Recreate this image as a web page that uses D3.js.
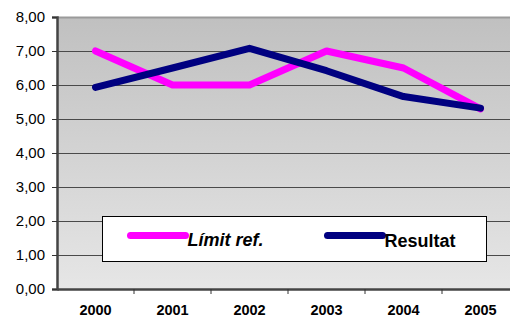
<!DOCTYPE html>
<html>
<head>
<meta charset="utf-8">
<script src="https://cdn.jsdelivr.net/npm/d3@7"></script>
<style>
  body { margin: 0; background: #fff; }
  svg { display: block; font-family: "Liberation Sans", Arial, sans-serif; }
</style>
</head>
<body>
<div class="container"></div>
<script>
// chart data
const years = ["2000", "2001", "2002", "2003", "2004", "2005"];
const limitRef = [7.0, 6.0, 6.0, 7.0, 6.5, 5.3];
const resultat = [5.93, 6.5, 7.08, 6.42, 5.66, 5.32];
const yTicks = [0, 1, 2, 3, 4, 5, 6, 7, 8];

const seriesNames = ["Límit ref.", "Resultat"];
const seriesColors = ["#ff00ff", "#000080"];

const W = 510, H = 317;
// plot area (right edge runs past the window, as in the reference)
const margin = { top: 17, left: 57 };
const plotW = 462, plotH = 272;

const svg = d3.select(".container")
  .append("svg")
  .attr("width", W)
  .attr("height", H);

const defs = svg.append("defs");
const grad = defs.append("linearGradient")
  .attr("id", "bg")
  .attr("x1", 0).attr("y1", 0).attr("x2", 0).attr("y2", 1);
grad.append("stop").attr("offset", "0%").attr("stop-color", "#c0c0c0");
grad.append("stop").attr("offset", "100%").attr("stop-color", "#e6e6e6");

const g = svg.append("g")
  .attr("transform", `translate(${margin.left}, ${margin.top})`);

const xScale = d3.scaleBand()
  .domain(years)
  .range([0, plotW]);

const yScale = d3.scaleLinear()
  .domain([0, 8])
  .range([plotH, 0]);

// background
g.append("rect")
  .attr("width", plotW)
  .attr("height", plotH)
  .attr("fill", "url(#bg)");

// top border of plot area
g.append("line")
  .attr("x1", 0).attr("x2", plotW)
  .attr("y1", 0.5).attr("y2", 0.5)
  .attr("stroke", "#9a9a9a")
  .attr("stroke-width", 2);

// gridlines
g.selectAll(".grid")
  .data(yTicks.filter(d => d > 0 && d < 8))
  .join("line")
  .attr("class", "grid")
  .attr("x1", 0).attr("x2", plotW)
  .attr("y1", d => Math.round(yScale(d)) + 0.5)
  .attr("y2", d => Math.round(yScale(d)) + 0.5)
  .attr("stroke", "#4a4a4a")
  .attr("stroke-width", 1);

// y axis
const yAxis = d3.axisLeft(yScale)
  .tickValues(yTicks)
  .tickSize(5)
  .tickFormat(d => d3.format(".2f")(d).replace(".", ","));

g.append("g")
  .attr("class", "y-axis")
  .call(yAxis)
  .call(s => s.select(".domain").attr("stroke", "#444").attr("stroke-width", 2.5))
  .call(s => s.selectAll(".tick line").attr("stroke", "#333"))
  .call(s => s.selectAll(".tick text")
    .attr("x", -12)
    .attr("fill", "#000")
    .style("font-size", "15px")
    .style("font-family", "Liberation Sans, Arial, sans-serif"));

// x axis: ticks between categories
const xAxis = d3.axisBottom(xScale)
  .tickSize(0)
  .tickSizeOuter(0);

const xg = g.append("g")
  .attr("class", "x-axis")
  .attr("transform", `translate(0, ${plotH})`)
  .call(xAxis);
xg.select(".domain").attr("stroke", "#444").attr("stroke-width", 2.5);
xg.selectAll(".tick text")
  .attr("y", 16)
  .attr("fill", "#000")
  .style("font-size", "14.5px")
  .style("font-weight", "bold")
  .style("font-family", "Liberation Sans, Arial, sans-serif");

g.selectAll(".xtick")
  .data(years.slice(1))
  .join("line")
  .attr("class", "xtick")
  .attr("x1", d => xScale(d))
  .attr("x2", d => xScale(d))
  .attr("y1", plotH)
  .attr("y2", plotH + 5)
  .attr("stroke", "#333");

// lines
const line = d3.line()
  .x((d, i) => xScale(years[i]) + xScale.bandwidth() / 2)
  .y(d => yScale(d));

[limitRef, resultat].forEach((values, k) => {
  g.append("path")
    .datum(values)
    .attr("fill", "none")
    .attr("stroke", seriesColors[k])
    .attr("stroke-width", 7)
    .attr("stroke-linejoin", "round")
    .attr("stroke-linecap", "round")
    .attr("d", line);
});

// legend
const legend = svg.append("g")
  .attr("transform", "translate(102.5, 216.5)");

legend.append("rect")
  .attr("width", 384)
  .attr("height", 45)
  .attr("fill", "#fff")
  .attr("stroke", "#000")
  .attr("stroke-width", 1);

const items = legend.selectAll(".item")
  .data(seriesNames)
  .join("g")
  .attr("class", "item")
  .attr("transform", (d, i) => `translate(${i === 0 ? 28 : 225}, 19)`);

items.append("line")
  .attr("x1", 0).attr("x2", 55)
  .attr("y1", 0).attr("y2", 0)
  .attr("stroke", (d, i) => seriesColors[i])
  .attr("stroke-width", 7)
  .attr("stroke-linecap", "round");

items.append("text")
  .attr("x", 57)
  .attr("y", (d, i) => i === 0 ? 10 : 11)
  .text(d => d)
  .style("font-size", "18px")
  .style("font-weight", "bold")
  .style("font-style", (d, i) => i === 0 ? "italic" : "normal")
  .attr("fill", "#000");
</script>
</body>
</html>
